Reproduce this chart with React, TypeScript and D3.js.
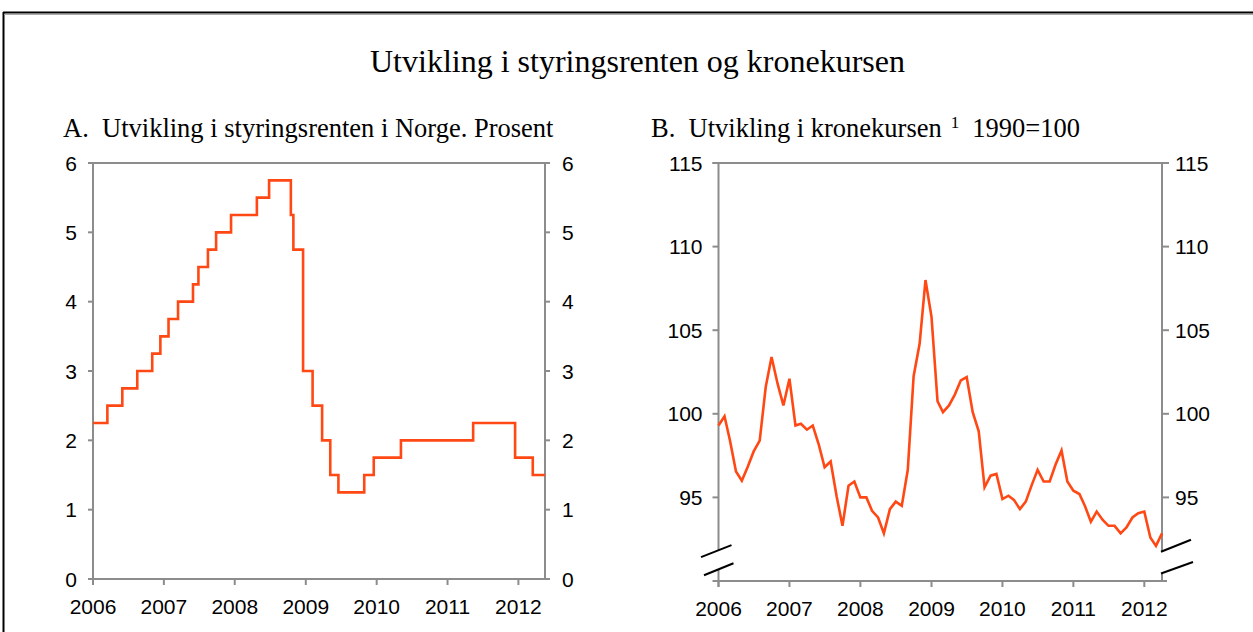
import React from "react";
import * as d3 from "d3";

// ---------- Data ----------
const rateChangeDates = [
  "2006-01-01", "2006-03-16", "2006-06-01", "2006-08-17", "2006-11-02", "2006-12-14",
  "2007-01-25", "2007-03-15", "2007-05-31", "2007-06-28", "2007-08-16", "2007-09-27",
  "2007-12-13", "2008-04-24", "2008-06-26", "2008-10-16", "2008-10-29", "2008-12-18",
  "2009-02-05", "2009-03-26", "2009-05-07", "2009-06-18", "2009-10-29", "2009-12-17",
  "2010-05-06", "2011-05-13", "2011-12-15", "2012-03-15",
];
const rateValues = [
  2.25, 2.5, 2.75, 3.0, 3.25, 3.5,
  3.75, 4.0, 4.25, 4.5, 4.75, 5.0,
  5.25, 5.5, 5.75, 5.25, 4.75, 3.0,
  2.5, 2.0, 1.5, 1.25, 1.5, 1.75,
  2.0, 2.25, 1.75, 1.5,
];
const rateEndDate = "2012-05-17";

const kroneStart = "2006-01-01";
const kroneEnd = "2012-04-01";
const kroneValues = [
  99.3, 99.85, 98.4, 96.55, 96.0, 96.85, 97.75, 98.4, 101.6, 103.4, 101.8, 100.5,
  102.1, 99.3, 99.4, 99.05, 99.3, 98.15, 96.8, 97.15, 95.05, 93.3, 95.7, 95.95,
  95.0, 95.0, 94.2, 93.8, 92.85, 94.3, 94.75, 94.5, 96.65, 102.25, 104.2, 108.0,
  105.8, 100.75, 100.1, 100.5, 101.15, 102.0, 102.2, 100.1, 98.95, 95.6, 96.3, 96.4,
  94.9, 95.1, 94.85, 94.3, 94.75, 95.75, 96.65, 95.95, 95.95, 96.95, 97.8, 95.95,
  95.4, 95.2, 94.5, 93.55, 94.15, 93.65, 93.3, 93.3, 92.85, 93.2, 93.8, 94.05,
  94.15, 92.6, 92.1, 92.85,
];

const yearTicks = ["2006", "2007", "2008", "2009", "2010", "2011", "2012"];
const rateTicks = [0, 1, 2, 3, 4, 5, 6];
const kroneTicks = [95, 100, 105, 110, 115];

const title = "Utvikling i styringsrenten og kronekursen";
const subA = "A.  Utvikling i styringsrenten i Norge. Prosent";
const subB = "B.  Utvikling i kronekursen";
const subBSup = "1";
const subBTail = "1990=100";

// ---------- Styles ----------
const LINE = "#ff4814";
const AXIS = "#8c8c8c";
const SANS = "'Liberation Sans', Arial, sans-serif";
const SERIF = "'Liberation Serif', 'Times New Roman', serif";
const TICK_FS = 21;

const parse = d3.utcParse("%Y-%m-%d");

export default function App() {
  // Panel A scales
  const xA = d3.scaleUtc().domain([parse("2006-01-01")!, parse(rateEndDate)!]).range([93, 545]);
  const yA = d3.scaleLinear().domain([0, 6]).range([579, 163]);
  const rateData = rateChangeDates.map((d, i) => ({ date: parse(d)!, v: rateValues[i] }));
  rateData.push({ date: parse(rateEndDate)!, v: rateValues[rateValues.length - 1] });
  const rateLine = d3
    .line<{ date: Date; v: number }>()
    .x((d) => xA(d.date))
    .y((d) => yA(d.v))
    .curve(d3.curveStepAfter);

  // Panel B scales
  const xB = d3.scaleUtc().domain([parse(kroneStart)!, parse(kroneEnd)!]).range([718.5, 1162]);
  const yB = d3.scaleLinear().domain([90, 115]).range([581, 163]);
  const months = d3.utcMonth.range(parse(kroneStart)!, d3.utcMonth.offset(parse(kroneEnd)!, 1));
  const kroneData = kroneValues.map((v, i) => ({ date: months[i], v }));
  const kroneLine = d3
    .line<{ date: Date; v: number }>()
    .x((d) => xB(d.date))
    .y((d) => yB(d.v));

  const yearDates = yearTicks.map((y) => parse(`${y}-01-01`)!);

  const aL = xA.range()[0], aR = xA.range()[1], aT = yA(6), aB = yA(0);
  const bL = xB.range()[0], bR = xB.range()[1], bT = yB(115), bB = yB(90);

  // break positions on panel B (in data units)
  const brkLeftTop = yB(91.85);
  const brkLeftBot = yB(90.7);
  const brkRightTop = yB(91.75);
  const brkRightBot = yB(90.45);

  return (
    <svg
      width={1253}
      height={632}
      style={{ position: "absolute", left: 0, top: 0, background: "#fff" }}
    >
      <rect x={0} y={0} width={1253} height={632} fill="#fff" />
      {/* outer frame */}
      <line x1={3} y1={12.5} x2={1253} y2={12.5} stroke="#000" strokeWidth={2} />
      <line x1={3.5} y1={12} x2={3.5} y2={632} stroke="#000" strokeWidth={2} />
      <line x1={4} y1={14.5} x2={1253} y2={14.5} stroke="#aaa" strokeWidth={1} />

      {/* Titles */}
      <text x={637.5} y={72} textAnchor="middle" fontFamily={SERIF} fontSize={32} fill="#000">
        {title}
      </text>
      <text x={63} y={137} fontFamily={SERIF} fontSize={26.5} fill="#000" xmlSpace="preserve">
        {subA}
      </text>
      <text x={651} y={137} fontFamily={SERIF} fontSize={26.5} fill="#000" xmlSpace="preserve">
        {subB}
        <tspan fontSize={17} dy={-9} dx={9}>{subBSup}</tspan>
        <tspan dy={9} dx={13}>{subBTail}</tspan>
      </text>

      {/* ---------- Panel A ---------- */}
      <g stroke={AXIS} strokeWidth={2} fill="none">
        <line x1={aL - 5} y1={aT} x2={aR + 5} y2={aT} />
        <line x1={aL - 5} y1={aB} x2={aR + 5} y2={aB} />
        <line x1={aL} y1={aT} x2={aL} y2={aB + 5} />
        <line x1={aR} y1={aT} x2={aR} y2={aB} />
        {rateTicks.map((t) => (
          <g key={t}>
            <line x1={aL - 5} y1={yA(t)} x2={aL} y2={yA(t)} />
            <line x1={aR} y1={yA(t)} x2={aR + 5} y2={yA(t)} />
          </g>
        ))}
        {yearDates.map((d, i) => (
          <line key={i} x1={xA(d)} y1={aB} x2={xA(d)} y2={aB + 6} />
        ))}
      </g>
      <g fontFamily={SANS} fontSize={TICK_FS} fill="#000">
        {rateTicks.map((t) => (
          <text key={"l" + t} x={aL - 16} y={yA(t)} textAnchor="end" dominantBaseline="central">
            {t}
          </text>
        ))}
        {rateTicks.map((t) => (
          <text key={"r" + t} x={aR + 17} y={yA(t)} textAnchor="start" dominantBaseline="central">
            {t}
          </text>
        ))}
        {yearDates.map((d, i) => (
          <text key={i} x={xA(d)} y={aB + 35} textAnchor="middle">
            {yearTicks[i]}
          </text>
        ))}
      </g>
      <path d={rateLine(rateData) ?? ""} fill="none" stroke={LINE} strokeWidth={2.6} />

      {/* ---------- Panel B ---------- */}
      <g stroke={AXIS} strokeWidth={2} fill="none">
        <line x1={bL - 6} y1={bT} x2={bR + 7} y2={bT} />
        <line x1={bL - 6} y1={bB} x2={bR + 5} y2={bB} />
        <line x1={bL} y1={bT} x2={bL} y2={brkLeftTop} />
        <line x1={bL} y1={brkLeftBot} x2={bL} y2={bB + 6} />
        <line x1={bR} y1={bT} x2={bR} y2={brkRightTop} />
        <line x1={bR} y1={brkRightBot} x2={bR} y2={bB} />
        {kroneTicks.map((t) => (
          <g key={t}>
            <line x1={bL - 6} y1={yB(t)} x2={bL} y2={yB(t)} />
            <line x1={bR} y1={yB(t)} x2={bR + 7} y2={yB(t)} />
          </g>
        ))}
        {yearDates.map((d, i) => (
          <line key={i} x1={xB(d)} y1={bB} x2={xB(d)} y2={bB + 6} />
        ))}
      </g>
      <path d={kroneLine(kroneData) ?? ""} fill="none" stroke={LINE} strokeWidth={2.6} />
      {/* axis break marks */}
      <g stroke="#000" strokeWidth={2}>
        <line x1={bL - 17.5} y1={brkLeftTop + 7} x2={bL + 13} y2={brkLeftTop - 5} />
        <line x1={bL - 14.5} y1={brkLeftBot + 6} x2={bL + 15} y2={brkLeftBot - 6} />
        <line x1={bR - 1} y1={brkRightTop} x2={bR + 29} y2={brkRightTop - 12} />
        <line x1={bR - 1} y1={brkRightBot} x2={bR + 31} y2={brkRightBot - 11.5} />
      </g>
      <g fontFamily={SANS} fontSize={TICK_FS} fill="#000">
        {kroneTicks.map((t) => (
          <text key={"l" + t} x={bL - 16} y={yB(t)} textAnchor="end" dominantBaseline="central">
            {t}
          </text>
        ))}
        {kroneTicks.map((t) => (
          <text key={"r" + t} x={bR + 13} y={yB(t)} textAnchor="start" dominantBaseline="central">
            {t}
          </text>
        ))}
        {yearDates.map((d, i) => (
          <text key={i} x={xB(d)} y={bB + 35} textAnchor="middle">
            {yearTicks[i]}
          </text>
        ))}
      </g>
    </svg>
  );
}
